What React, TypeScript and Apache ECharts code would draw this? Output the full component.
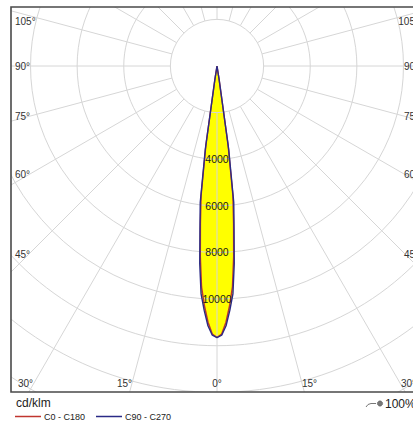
import React, { useEffect, useRef } from "react";
import * as echarts from "echarts";

// ---- data ----
const curveAngles = [0, 1, 2, 3, 4, 5, 6, 7, 8, 9, 10]; // degrees from nadir
const c0c180 = [11650, 11500, 11000, 10300, 9500, 8200, 6800, 5600, 3400, 500, 0];
const c90c270 = [11650, 11550, 11150, 10500, 9800, 8500, 7000, 5900, 3600, 600, 0];
const ringValues = [2000, 4000, 6000, 8000, 10000, 12000, 14000, 16000, 18000];
const ringLabelValues = [4000, 6000, 8000, 10000];
const spokeAngles = [-180, -165, -150, -135, -120, -105, -90, -75, -60, -45, -30, -15, 0, 15, 30, 45, 60, 75, 90, 105, 120, 135, 150, 165];
const sideAngleLabels = ["105°", "90°", "75°", "60°", "45°"];
const bottomAngleLabels = ["30°", "15°", "0°", "15°", "30°"];
const seriesNames = ["C0 - C180", "C90 - C270"];
const unitLabel = "cd/klm";
const efficiencyLabel = "100%";

// ---- layout ----
const W = 413;
const H = 422;
const INNER_W = 450;
const GRID_LEFT = 11;
const GRID_TOP = 7;
const GRID_W = 412;
const GRID_H = 385;
const CX_PX = 206; // centre offset from grid left
const CY_PX = 59; // centre offset from grid top
const UNIT_PER_PX = 42.9;
const sideLabelY = [21, 66, 116, 174, 254];
const bottomLabelX = [25.5, 124.5, 217, 309.5, 408.5];
const FONT = '"Liberation Sans", Arial, sans-serif';
const RED = "#c0352f";
const BLUE = "#2a2a86";

const toXY = (deg: number, v: number) => {
  const r = (deg * Math.PI) / 180;
  return [v * Math.sin(r), -v * Math.cos(r)];
};

const closedCurve = (values: number[]) => {
  const pts: number[][] = [];
  for (let i = curveAngles.length - 1; i >= 1; i--) pts.push(toXY(-curveAngles[i], values[i]));
  for (let i = 0; i < curveAngles.length; i++) pts.push(toXY(curveAngles[i], values[i]));
  return pts;
};

const clipOf = (params: any) => ({
  type: "rect",
  shape: {
    x: params.coordSys.x,
    y: params.coordSys.y,
    width: params.coordSys.width,
    height: params.coordSys.height,
  },
});

export default function App() {
  const ref = useRef<HTMLDivElement>(null);

  useEffect(() => {
    if (!ref.current) return;
    const chart = echarts.init(ref.current, null, { renderer: "svg" });

    const redPts = closedCurve(c0c180);
    const bluePts = closedCurve(c90c270);

    const graphics: any[] = [];
    sideAngleLabels.forEach((t, i) => {
      graphics.push({
        type: "text",
        x: 15,
        y: sideLabelY[i],
        z: 50,
        style: { text: t, font: `10px ${FONT}`, fill: "#333", align: "left", verticalAlign: "middle" },
      });
      graphics.push({
        type: "text",
        x: 2 * (GRID_LEFT + CX_PX) - 15,
        y: sideLabelY[i],
        z: 50,
        style: { text: t, font: `10px ${FONT}`, fill: "#333", align: "right", verticalAlign: "middle" },
      });
    });
    bottomAngleLabels.forEach((t, i) => {
      graphics.push({
        type: "text",
        x: bottomLabelX[i],
        y: 383,
        z: 50,
        style: { text: t, font: `10px ${FONT}`, fill: "#333", align: "center", verticalAlign: "middle" },
      });
    });
    graphics.push({
      type: "rect",
      z: 60,
      shape: { x: GRID_LEFT, y: GRID_TOP, width: GRID_W, height: GRID_H },
      style: { fill: "none", stroke: "#4a4a4a", lineWidth: 1.6 },
    });
    graphics.push({
      type: "text",
      x: 16,
      y: 403,
      z: 50,
      style: { text: unitLabel, font: `12px ${FONT}`, fill: "#222", align: "left", verticalAlign: "middle" },
    });
    graphics.push({
      type: "text",
      x: 385,
      y: 404,
      z: 50,
      style: { text: efficiencyLabel, font: `12px ${FONT}`, fill: "#222", align: "left", verticalAlign: "middle" },
    });
    graphics.push({
      type: "polyline",
      z: 50,
      shape: { points: [[366, 407], [368, 404.5], [371, 403.5], [376, 403.5]] },
      style: { stroke: "#777", lineWidth: 1, fill: "none" },
    });
    graphics.push({
      type: "circle",
      z: 50,
      shape: { cx: 380, cy: 403.5, r: 2.6 },
      style: { fill: "#777", stroke: "#555", lineWidth: 0.6 },
    });

    const option: any = {
      animation: false,
      backgroundColor: "#fff",
      grid: {
        left: GRID_LEFT,
        top: GRID_TOP,
        width: GRID_W,
        height: GRID_H,
        containLabel: false,
      },
      xAxis: {
        type: "value",
        min: -CX_PX * UNIT_PER_PX,
        max: (GRID_W - CX_PX) * UNIT_PER_PX,
        show: false,
      },
      yAxis: {
        type: "value",
        min: -(GRID_H - CY_PX) * UNIT_PER_PX,
        max: CY_PX * UNIT_PER_PX,
        show: false,
      },
      legend: {
        data: seriesNames,
        left: 15,
        top: 412,
        padding: 0,
        icon: "rect",
        itemWidth: 26,
        itemHeight: 1.5,
        itemGap: 11,
        selectedMode: false,
        textStyle: { fontSize: 9, fontFamily: FONT, color: "#222", padding: [0, 0, 0, -2] },
      },
      graphic: graphics,
      series: [
        {
          type: "custom",
          name: "fill",
          silent: true,
          z: 1,
          data: [[0, 0]],
          renderItem: (params: any, api: any) => ({
            type: "group",
            clipPath: clipOf(params),
            children: [bluePts, redPts].map((pts) => ({
              type: "polygon",
              shape: { points: pts.map((p) => api.coord(p)) },
              style: { fill: "#ffff00", stroke: "none" },
            })),
          }),
        },
        {
          type: "custom",
          name: "rings",
          silent: true,
          z: 2,
          data: ringValues.map((v) => [0, 0, v]),
          renderItem: (params: any, api: any) => {
            const v = ringValues[params.dataIndex];
            const c = api.coord([0, 0]);
            const r = api.size([v, 0])[0];
            return {
              type: "group",
              clipPath: clipOf(params),
              children: [
                {
                  type: "circle",
                  shape: { cx: c[0], cy: c[1], r },
                  style: { fill: "none", stroke: "#d6d6d6", lineWidth: 1 },
                },
              ],
            };
          },
        },
        {
          type: "custom",
          name: "spokes",
          silent: true,
          z: 2,
          data: spokeAngles.map((a) => [0, 0, a]),
          renderItem: (params: any, api: any) => {
            const a = spokeAngles[params.dataIndex];
            const p1 = api.coord(toXY(a, ringValues[0]));
            const p2 = api.coord(toXY(a, 30000));
            return {
              type: "group",
              clipPath: clipOf(params),
              children: [
                {
                  type: "line",
                  shape: { x1: p1[0], y1: p1[1], x2: p2[0], y2: p2[1] },
                  style: { stroke: "#d6d6d6", lineWidth: 1 },
                },
              ],
            };
          },
        },
        {
          type: "line",
          name: seriesNames[0],
          data: redPts,
          symbol: "none",
          z: 3,
          color: RED,
          lineStyle: { color: RED, width: 1.4 },
          itemStyle: { color: RED },
        },
        {
          type: "line",
          name: seriesNames[1],
          data: bluePts,
          symbol: "none",
          z: 4,
          color: BLUE,
          lineStyle: { color: BLUE, width: 1.4 },
          itemStyle: { color: BLUE },
        },
        {
          type: "custom",
          name: "ringLabels",
          silent: true,
          z: 6,
          data: ringLabelValues.map((v) => [0, -v]),
          renderItem: (params: any, api: any) => {
            const v = ringLabelValues[params.dataIndex];
            const p = api.coord([0, -v]);
            return {
              type: "text",
              x: p[0],
              y: p[1],
              style: {
                text: String(v),
                font: `10.5px ${FONT}`,
                fill: "#1a1a1a",
                align: "center",
                verticalAlign: "middle",
              },
            };
          },
        },
      ],
    };

    chart.setOption(option);
    return () => chart.dispose();
  }, []);

  return (
    <div style={{ position: "absolute", left: 0, top: 0, width: W, height: H, overflow: "hidden", background: "#fff" }}>
      <div ref={ref} style={{ width: INNER_W, height: H }} />
    </div>
  );
}
